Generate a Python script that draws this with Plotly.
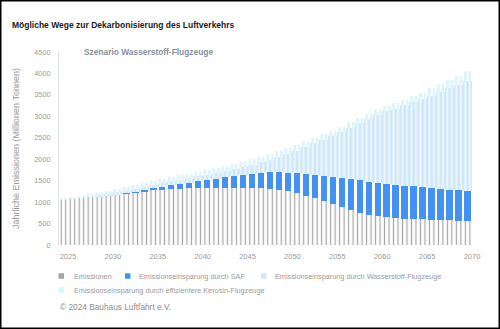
import plotly.graph_objects as go

years = list(range(2025, 2071))
emissionen = [1060, 1090, 1105, 1120, 1140, 1160, 1180, 1200, 1225, 1250, 1275, 1290, 1300, 1310, 1320,
              1327, 1330, 1333, 1335, 1336, 1335, 1332, 1325, 1312, 1290, 1257, 1210, 1150, 1085, 1015,
              950, 880, 810, 745, 700, 670, 650, 630, 615, 603, 595, 588, 580, 573, 567, 563]
saf = [0, 0, 0, 0, 0, 0, 0, 10, 20, 35, 50, 70, 90, 110, 135, 160, 185, 215, 240, 270, 300, 330, 360,
       385, 405, 420, 460, 510, 555, 595, 630, 680, 725, 760, 770, 775, 775, 772, 768, 762, 756, 745,
       732, 718, 705, 694]
wasserstoff = [0, 0, 5, 10, 20, 30, 45, 55, 60, 65, 70, 90, 98, 105, 107, 113, 125, 134, 153, 168, 185,
               213, 245, 288, 357, 443, 532, 625, 728, 840, 952, 1075, 1203, 1335, 1472, 1597, 1693,
               1780, 1872, 1960, 2044, 2147, 2253, 2359, 2463, 2563]
effizienz = [15, 28, 38, 50, 60, 70, 78, 84, 88, 92, 95, 95, 95, 97, 98, 100, 105, 108, 112, 116, 120,
             125, 130, 135, 138, 140, 138, 135, 132, 130, 128, 125, 122, 120, 118, 118, 122, 128, 135,
             145, 155, 170, 185, 200, 215, 230]
x_ticks = list(range(2025, 2071, 5))
y_ticks = list(range(0, 4501, 500))

names = ["Emissionen", "Emissionseinsparung durch SAF",
         "Emissionseinsparung durch Wasserstoff-Flugzeuge",
         "Emissionseinsparung durch effizientere Kerosin-Flugzeuge"]
C_GRAY = "#a6a6a6"
C_SAF = "#4392f3"
C_H2 = "#d0e7f8"
C_EFF = "#dcf5fa"

FONT = "Liberation Sans, Arial, sans-serif"
TXT = "#9a9a9a"

fig = go.Figure()
fig.add_bar(x=years, y=emissionen, name=names[0], width=1, offset=-1,
            marker=dict(color=C_GRAY, line_width=0,
                        pattern=dict(shape="|", size=4.49, solidity=0.27, fgcolor=C_GRAY,
                                     bgcolor="white", fillmode="replace")))
fig.add_bar(x=years, y=saf, name=names[1], width=0.72, offset=-0.86,
            marker=dict(color=C_SAF, line_width=0))
fig.add_bar(x=years, y=wasserstoff, name=names[2], width=1, offset=-1,
            marker=dict(color=C_H2, line_width=0,
                        pattern=dict(shape="|", size=4.49, solidity=0.38, fgcolor="#eff9fd",
                                     bgcolor=C_H2, fillmode="replace")))
fig.add_bar(x=years, y=effizienz, name=names[3], width=1, offset=-1,
            marker=dict(color=C_EFF, line_width=0,
                        pattern=dict(shape="|", size=4.49, solidity=0.6, fgcolor=C_EFF,
                                     bgcolor="white", fillmode="replace")))

L, R, T, B = 59, 28, 52, 84
PW, PH = 500 - L - R, 329 - T - B


def px(xp):
    return (xp - L) / PW


def py(yp):
    return (329 - B - yp) / PH


fig.update_layout(
    width=500, height=329, margin=dict(l=L, r=R, t=T, b=B),
    barmode="stack", showlegend=False,
    plot_bgcolor="white", paper_bgcolor="white",
    font=dict(family=FONT, size=7.3, color=TXT),
    title=dict(text="<b>Mögliche Wege zur Dekarbonisierung des Luftverkehrs</b>",
               x=12 / 500, xref="container", xanchor="left",
               y=(329 - 25) / 329, yref="container", yanchor="middle",
               font=dict(family=FONT, size=8.5, color="#1a1a1a")),
    xaxis=dict(range=[2024, 2070], tickvals=x_ticks, showgrid=False, zeroline=False,
               showline=False, ticks="", ticklabelstandoff=5,
               tickfont=dict(size=7.5, color=TXT)),
    yaxis=dict(range=[0, 4500], tickvals=y_ticks, showgrid=False, zeroline=False,
               showline=True, linecolor="#e4e4e4", linewidth=1, ticks="",
               ticklabelstandoff=6, tickfont=dict(size=7.3, color=TXT),
               title=dict(text="Jährliche Emissionen (Millionen Tonnen)",
                          font=dict(size=9, color=TXT), standoff=13)),
)

fig.add_annotation(text="<b>Szenario Wasserstoff-Flugzeuge</b>", xref="paper", yref="paper",
                   x=px(82), y=py(52.3), xanchor="left", yanchor="middle", showarrow=False,
                   font=dict(family=FONT, size=8.4, color="#8a929c"))

legend_items = [(names[0], C_GRAY, 58.5, 71.7, 276),
                (names[1], C_SAF, 125, 137.3, 276),
                (names[2], C_H2, 261, 272.7, 276),
                (names[3], C_EFF, 58.5, 71.7, 290)]
for label, col, sx, tx, yy in legend_items:
    fig.add_shape(type="rect", xref="paper", yref="paper",
                  x0=px(sx), x1=px(sx + 5.5), y0=py(yy + 2.75), y1=py(yy - 2.75),
                  fillcolor=col, line_width=0)
    fig.add_annotation(text=label, xref="paper", yref="paper", x=px(tx), y=py(yy),
                       xanchor="left", yanchor="middle", showarrow=False,
                       font=dict(size=7.3, color=TXT))

fig.add_annotation(text="© 2024 Bauhaus Luftfahrt e.V.", xref="paper", yref="paper",
                   x=px(58.3), y=py(307.3), xanchor="left", yanchor="middle", showarrow=False,
                   font=dict(size=8.3, color="#8c8c8c"))

fig.add_shape(type="rect", xref="paper", yref="paper",
              x0=px(0.75), x1=px(499.25), y0=py(328.25), y1=py(0.75),
              line=dict(color="black", width=1.5), fillcolor="rgba(0,0,0,0)")

fig.write_html("out.html")
